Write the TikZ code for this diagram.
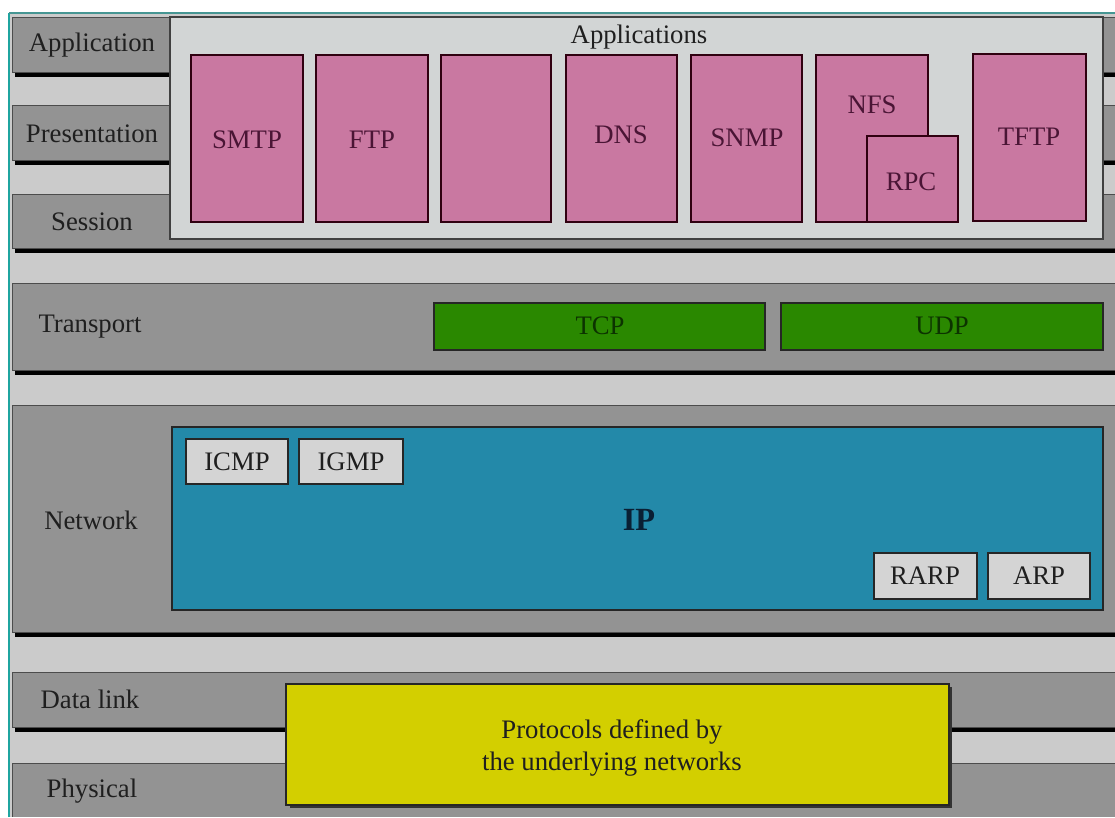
\documentclass[tikz,border=0pt]{standalone}
\usepackage{fontspec}
\setmainfont{Liberation Serif}
\definecolor{bggray}{HTML}{CBCBCB}
\definecolor{layergray}{HTML}{939393}
\definecolor{panelgray}{HTML}{D2D5D5}
\definecolor{apppink}{HTML}{C978A1}
\definecolor{pinktext}{HTML}{4A1535}
\definecolor{tcpgreen}{HTML}{2A8800}
\definecolor{greentext}{HTML}{0C3300}
\definecolor{ipblue}{HTML}{2389A9}
\definecolor{iptext}{HTML}{0A1F33}
\definecolor{boxgray}{HTML}{D4D4D4}
\definecolor{netyellow}{HTML}{D3CF00}
\definecolor{edgeteal}{HTML}{1FA5A0}
\tikzset{
    lbl/.style={font=\fontsize{19}{23}\selectfont, text=black!88},
    layeredge/.style={draw=black!70, line width=0.6pt},
    appbox/.style={fill=apppink, draw=black!75!purple, line width=1pt},
    tpbox/.style={fill=tcpgreen, draw=black!85, line width=1.1pt},
    smallbox/.style={fill=boxgray, draw=black!85, line width=1.4pt}
}
\begin{document}
\begin{tikzpicture}[x=0.025cm, y=-0.025cm]
    \useasboundingbox (0,0) rectangle (1115,817);
    \fill[white] (0,0) rectangle (1115,817);
    \fill[bggray] (8,13) rectangle (1115,817);
    \draw[edgeteal, line width=2pt] (9,817) -- (9,13);
    \draw[edgeteal!60!gray, line width=1pt] (9,13) -- (1115,13);

    % Layer bands
    \foreach \yt/\yb in {17/72, 105/160, 194/248, 283/370, 405/632, 672/727} {
        \fill[black] (15,\yb) rectangle (1115,\yb+5);
        \fill[layergray] (12,\yt) rectangle (1115,\yb);
        \draw[layeredge] (1115,\yt) -- (12,\yt) -- (12,\yb) -- (1115,\yb);
    }
    \fill[layergray] (12,763) rectangle (1115,817);
    \draw[layeredge] (1115,763) -- (12,763) -- (12,817);

    % Layer names
    \node[lbl] (application) at (92,45) {Application};
    \node[lbl] (presentation) at (92,134) {Presentation};
    \node[lbl] (session) at (92,222) {Session};
    \node[lbl] (transport) at (90,327) {Transport};
    \node[lbl] (network) at (91,520) {Network};
    \node[lbl] (datalink) at (90,699) {Data link};
    \node[lbl] (physical) at (92,791) {Physical};

    % Application protocols
    \draw[fill=panelgray, draw=black!75, line width=0.8pt] (170,17) rectangle (1103,239);
    \node[lbl] (apps) at (639,37) {Applications};
    \draw[appbox] (191,55) rectangle (303,222);
    \draw[appbox] (316,55) rectangle (428,222);
    \draw[appbox] (441,55) rectangle (551,222);
    \draw[appbox] (566,55) rectangle (677,222);
    \draw[appbox] (691,55) rectangle (802,222);
    \draw[appbox] (816,55) rectangle (928,222);
    \draw[appbox] (867,136) rectangle (958,222);
    \draw[appbox] (973,54) rectangle (1086,221);
    \node[lbl, text=pinktext] (smtp) at (247,140) {SMTP};
    \node[lbl, text=pinktext] (ftp) at (372,140) {FTP};
    \node[lbl, text=pinktext] (dns) at (621,135) {DNS};
    \node[lbl, text=pinktext] (snmp) at (747,138) {SNMP};
    \node[lbl, text=pinktext] (nfs) at (872,105) {NFS};
    \node[lbl, text=pinktext] (rpc) at (911,182) {RPC};
    \node[lbl, text=pinktext] (tftp) at (1029,137) {TFTP};

    % Transport protocols
    \draw[tpbox] (434,303) rectangle (765,350);
    \draw[tpbox] (781,303) rectangle (1103,350);
    \node[lbl, text=greentext] (tcp) at (600,326) {TCP};
    \node[lbl, text=greentext] (udp) at (942,326) {UDP};

    % Network protocols
    \draw[fill=ipblue, draw=black!85, line width=1.1pt] (172,427) rectangle (1103,610);
    \node[font=\fontsize{23}{26}\selectfont\bfseries, text=iptext] (ip) at (639,520) {IP};
    \draw[smallbox] (186,439) rectangle (288,484);
    \draw[smallbox] (299,439) rectangle (403,484);
    \draw[smallbox] (874,553) rectangle (977,599);
    \draw[smallbox] (988,553) rectangle (1090,599);
    \node[lbl] (icmp) at (237,462) {ICMP};
    \node[lbl] (igmp) at (351,462) {IGMP};
    \node[lbl] (rarp) at (925,576) {RARP};
    \node[lbl] (arp) at (1039,576) {ARP};

    % Underlying networks
    \fill[black!80] (290,687) rectangle (952,808);
    \draw[fill=netyellow, draw=black!85, line width=1.1pt] (286,684) rectangle (949,805);
    \node[lbl, align=center] (under) at (612,748) {Protocols defined by\\the underlying networks};
\end{tikzpicture}
\end{document}
